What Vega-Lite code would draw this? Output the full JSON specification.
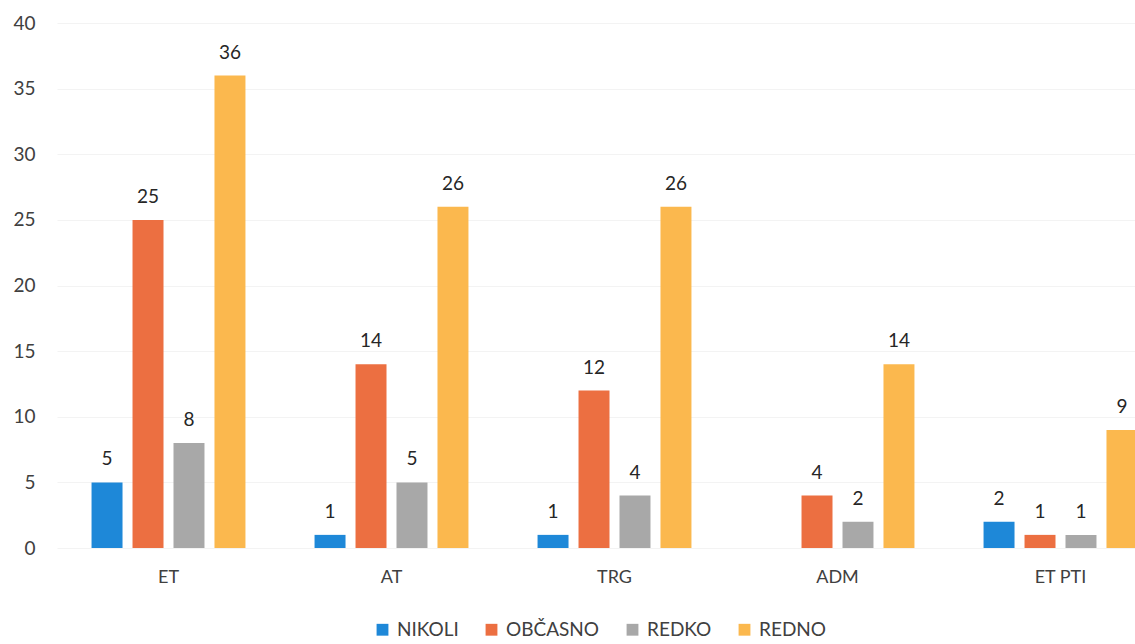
{
  "$schema": "https://vega.github.io/schema/vega-lite/v6.json",
  "autosize": {"type": "none"},
  "padding": {"left": 57, "top": 23, "right": 0, "bottom": 96},
  "width": 1078,
  "height": 525,
  "background": "white",
  "config": {
    "view": {"stroke": null},
    "font": "Lato",
    "axis": {"labelFont": "Lato", "labelColor": "#404040", "labelFontSize": 19, "domain": false, "ticks": false, "tickSize": 0, "title": null},
    "legend": {"labelFont": "Lato", "labelFontSize": 19, "labelColor": "#404040"}
  },
  "data": {
    "values": [
      {"kat": "ET", "s": "NIKOLI", "v": 5},
      {"kat": "ET", "s": "OBČASNO", "v": 25},
      {"kat": "ET", "s": "REDKO", "v": 8},
      {"kat": "ET", "s": "REDNO", "v": 36},
      {"kat": "AT", "s": "NIKOLI", "v": 1},
      {"kat": "AT", "s": "OBČASNO", "v": 14},
      {"kat": "AT", "s": "REDKO", "v": 5},
      {"kat": "AT", "s": "REDNO", "v": 26},
      {"kat": "TRG", "s": "NIKOLI", "v": 1},
      {"kat": "TRG", "s": "OBČASNO", "v": 12},
      {"kat": "TRG", "s": "REDKO", "v": 4},
      {"kat": "TRG", "s": "REDNO", "v": 26},
      {"kat": "ADM", "s": "OBČASNO", "v": 4},
      {"kat": "ADM", "s": "REDKO", "v": 2},
      {"kat": "ADM", "s": "REDNO", "v": 14},
      {"kat": "ET PTI", "s": "NIKOLI", "v": 2},
      {"kat": "ET PTI", "s": "OBČASNO", "v": 1},
      {"kat": "ET PTI", "s": "REDKO", "v": 1},
      {"kat": "ET PTI", "s": "REDNO", "v": 9}
    ]
  },
  "encoding": {
    "x": {
      "field": "kat", "type": "nominal", "sort": ["ET", "AT", "TRG", "ADM", "ET PTI"],
      "scale": {"range": [0, 1115], "paddingInner": 0.265, "paddingOuter": 0.1325},
      "axis": {"labelAngle": 0, "labelPadding": 20, "grid": false, "labelFontSize": 18}
    },
    "xOffset": {
      "field": "s", "type": "nominal", "sort": ["NIKOLI", "OBČASNO", "REDKO", "REDNO"],
      "scale": {"paddingInner": 0.244, "paddingOuter": 0.122}
    },
    "y": {
      "field": "v", "type": "quantitative",
      "scale": {"domain": [0, 40], "nice": false},
      "axis": {"values": [0, 5, 10, 15, 20, 25, 30, 35, 40], "labelPadding": 22, "grid": true, "gridColor": "#f3f3f3", "gridWidth": 1}
    }
  },
  "layer": [
    {
      "mark": {"type": "bar"},
      "encoding": {
        "color": {
          "field": "s", "type": "nominal", "sort": ["NIKOLI", "OBČASNO", "REDKO", "REDNO"],
          "scale": {"domain": ["NIKOLI", "OBČASNO", "REDKO", "REDNO"], "range": ["#1e88d8", "#ec6f41", "#a8a8a8", "#fbb84e"]},
          "legend": {"orient": "none", "legendX": 316, "legendY": 597, "direction": "horizontal", "title": null, "symbolType": "square", "symbolSize": 140, "symbolStrokeWidth": 0, "columnPadding": 23, "labelOffset": 5}
        }
      }
    },
    {
      "mark": {"type": "text", "baseline": "bottom", "dy": -13, "fontSize": 19, "color": "#262626"},
      "encoding": {"text": {"field": "v", "type": "quantitative"}}
    }
  ]
}
